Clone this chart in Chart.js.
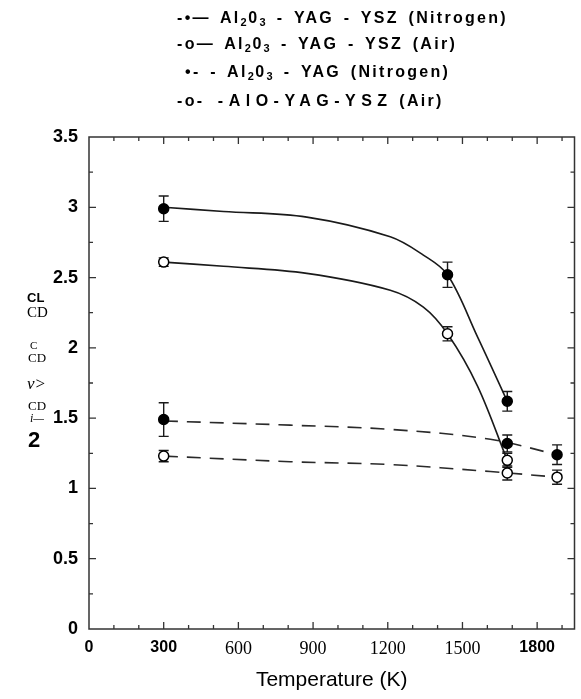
<!DOCTYPE html>
<html>
<head>
<meta charset="utf-8">
<script src="https://cdn.jsdelivr.net/npm/chart.js@4.4.1/dist/chart.umd.min.js"></script>
<style>
  html, body { margin: 0; padding: 0; background: #fff; }
  #wrap { position: relative; width: 581px; height: 699px; }
  #wrap canvas { position: absolute; left: 0; top: 0; }
  .leg { position: absolute; font: bold 16px 'Liberation Sans', Arial, sans-serif; color: #000; white-space: pre; line-height: 20px; letter-spacing: 2.3px; word-spacing: 3px; }
  .leg sub { font-size: 11px; vertical-align: -3px; line-height: 0; letter-spacing: 1.5px; }
  .ylab { position: absolute; color: #000; line-height: 1; }
</style>
</head>
<body>
<div id="wrap">
  <canvas id="tempChart" width="581" height="699"></canvas>
  <div class="leg" style="left:177px; top:8px;">-•— Al<sub>2</sub>0<sub>3</sub> - YAG - YSZ (Nitrogen)</div>
  <div class="leg" style="left:177px; top:34px;">-o— Al<sub>2</sub>0<sub>3</sub> - YAG - YSZ (Air)</div>
  <div class="leg" style="left:185px; top:62px;">•- - Al<sub>2</sub>0<sub>3</sub> - YAG (Nitrogen)</div>
  <div class="leg" style="left:177px; top:91px; word-spacing:0;">-o-  <span style="letter-spacing:5.5px;">-AlO-YAG-YSZ</span> (Air)</div>

  <div class="ylab" style="left:27px; top:290px; font:bold 13px 'Liberation Sans', sans-serif;">CL</div>
  <div class="ylab" style="left:27px; top:304px; font:15px 'Liberation Serif', serif;">CD</div>
  <div class="ylab" style="left:30px; top:339px; font:11px 'Liberation Serif', serif;">C</div>
  <div class="ylab" style="left:28px; top:350px; font:13px 'Liberation Serif', serif;">CD</div>
  <div class="ylab" style="left:27px; top:374px; font:italic 17px 'Liberation Serif', serif;">ν&gt;</div>
  <div class="ylab" style="left:28px; top:398px; font:13px 'Liberation Serif', serif;">CD</div>
  <div class="ylab" style="left:30px; top:411px; font:italic 12px 'Liberation Serif', serif;">i—</div>
  <div class="ylab" style="left:28px; top:427px; font:bold 22px 'Liberation Sans', sans-serif;">2</div>
</div>
<script>
'use strict';

// ---- tick labels ----
const xTickValues = [0, 300, 600, 900, 1200, 1500, 1800];
const xBoldTicks = [0, 300, 1800];
const yTickValues = [0, 0.5, 1, 1.5, 2, 2.5, 3, 3.5];

// ---- measured points (value, +/- error) ----
const tempN1 = [300, 1440, 1680];
const valN1 = [2.99, 2.52, 1.62];
const errN1 = [0.09, 0.09, 0.07];

const tempA1 = [300, 1440, 1680];
const valA1 = [2.61, 2.10, 1.20];
const errA1 = [0.03, 0.05, 0.05];

const tempN2 = [300, 1680, 1880];
const valN2 = [1.49, 1.32, 1.24];
const errN2 = [0.12, 0.06, 0.07];

const tempA2 = [300, 1680, 1880];
const valA2 = [1.23, 1.11, 1.08];
const errA2 = [0.04, 0.05, 0.05];

// ---- fitted curves ----
const fitTemp1 = [300, 540, 875, 1210, 1343, 1440, 1560, 1680];
const fitN1 = [3.00, 2.97, 2.93, 2.79, 2.66, 2.52, 2.08, 1.62];
const fitA1 = [2.61, 2.58, 2.53, 2.41, 2.29, 2.10, 1.73, 1.20];

const fitTemp2 = [300, 808, 1210, 1612, 1880];
const fitN2 = [1.48, 1.45, 1.42, 1.35, 1.24];
const fitA2 = [1.23, 1.19, 1.17, 1.12, 1.08];

const INK = '#1a1a1a';
const SANS = "'Liberation Sans', Arial, sans-serif";
const SERIF = "'Liberation Serif', 'Times New Roman', serif";

const pts = (xs, ys) => xs.map((x, i) => ({ x, y: ys[i] }));

function curve(xs, ys, dashed) {
  return {
    type: 'line',
    data: pts(xs, ys),
    borderColor: dashed ? '#2a2a2a' : INK,
    borderWidth: 1.6,
    borderDash: dashed ? [14, 9] : [],
    pointRadius: 0,
    tension: 0.35,
    fill: false,
    order: 2,
  };
}

function markers(xs, ys, errs, filled) {
  return {
    type: 'scatter',
    data: pts(xs, ys),
    errorBars: errs,
    pointStyle: 'circle',
    pointRadius: 5,
    pointBorderWidth: 1.5,
    pointBorderColor: '#000',
    pointBackgroundColor: filled ? '#000' : '#fff',
    order: 1,
  };
}

// vertical error bars with caps, drawn under the markers
const errorBarPlugin = {
  id: 'errorBars',
  beforeDatasetsDraw(chart) {
    const { ctx, scales: { x, y } } = chart;
    ctx.save();
    ctx.strokeStyle = INK;
    ctx.lineWidth = 1.4;
    chart.data.datasets.forEach(ds => {
      if (!ds.errorBars) return;
      ds.data.forEach((p, i) => {
        const e = ds.errorBars[i];
        const px = x.getPixelForValue(p.x);
        const top = y.getPixelForValue(p.y + e);
        const bot = y.getPixelForValue(p.y - e);
        ctx.beginPath();
        ctx.moveTo(px, top); ctx.lineTo(px, bot);
        ctx.moveTo(px - 5, top); ctx.lineTo(px + 5, top);
        ctx.moveTo(px - 5, bot); ctx.lineTo(px + 5, bot);
        ctx.stroke();
      });
    });
    ctx.restore();
  }
};

// box frame with inward ticks on all four sides
const framePlugin = {
  id: 'frame',
  afterDraw(chart) {
    const { ctx, chartArea: a, scales: { x, y } } = chart;
    ctx.save();
    ctx.strokeStyle = '#333';
    ctx.lineWidth = 1.5;
    ctx.strokeRect(a.left, a.top, a.right - a.left, a.bottom - a.top);
    ctx.lineWidth = 1.3;
    ctx.beginPath();
    for (let v = 100; v < x.max; v += 100) {
      const px = x.getPixelForValue(v);
      const len = v % 300 === 0 ? 7 : 4;
      ctx.moveTo(px, a.bottom); ctx.lineTo(px, a.bottom - len);
      ctx.moveTo(px, a.top); ctx.lineTo(px, a.top + len);
    }
    for (let v = 0.25; v < y.max; v += 0.25) {
      const py = y.getPixelForValue(v);
      const len = Math.abs(v * 2 - Math.round(v * 2)) < 1e-6 ? 7 : 4;
      ctx.moveTo(a.left, py); ctx.lineTo(a.left + len, py);
      ctx.moveTo(a.right, py); ctx.lineTo(a.right - len, py);
    }
    ctx.stroke();
    ctx.restore();
  }
};

new Chart(document.getElementById('tempChart').getContext('2d'), {
  type: 'scatter',
  data: {
    datasets: [
      curve(fitTemp1, fitN1, false),
      curve(fitTemp1, fitA1, false),
      curve(fitTemp2, fitN2, true),
      curve(fitTemp2, fitA2, true),
      markers(tempN1, valN1, errN1, true),
      markers(tempA1, valA1, errA1, false),
      markers(tempN2, valN2, errN2, true),
      markers(tempA2, valA2, errA2, false),
    ]
  },
  options: {
    responsive: false,
    animation: false,
    layout: { padding: { top: 137, right: 5, left: 0, bottom: 0 } },
    plugins: { legend: { display: false }, tooltip: { enabled: false } },
    scales: {
      x: {
        type: 'linear',
        min: 0,
        max: 1950,
        afterBuildTicks: s => { s.ticks = xTickValues.map(v => ({ value: v })); },
        afterFit: s => { s.height = 70; },
        grid: { display: false, drawTicks: false },
        border: { display: false },
        ticks: {
          color: '#000',
          padding: 9,
          maxRotation: 0,
          autoSkip: false,
          callback: v => String(v),
          font: c => xBoldTicks.includes(c.tick && c.tick.value)
            ? { family: SANS, size: 16, weight: 'bold' }
            : { family: SERIF, size: 18, weight: 'normal' },
        },
        title: {
          display: true,
          text: 'Temperature (K)',
          color: '#000',
          font: { family: SANS, size: 21 },
          padding: { top: 0, bottom: 6 },
        },
      },
      y: {
        min: 0,
        max: 3.5,
        afterBuildTicks: s => { s.ticks = yTickValues.map(v => ({ value: v })); },
        afterFit: s => { s.width = 89; },
        grid: { display: false, drawTicks: false },
        border: { display: false },
        ticks: {
          color: '#000',
          padding: 11,
          callback: v => String(v),
          font: { family: SANS, size: 18, weight: 'bold' },
        },
      },
    },
  },
  plugins: [errorBarPlugin, framePlugin],
});
</script>
</body>
</html>
